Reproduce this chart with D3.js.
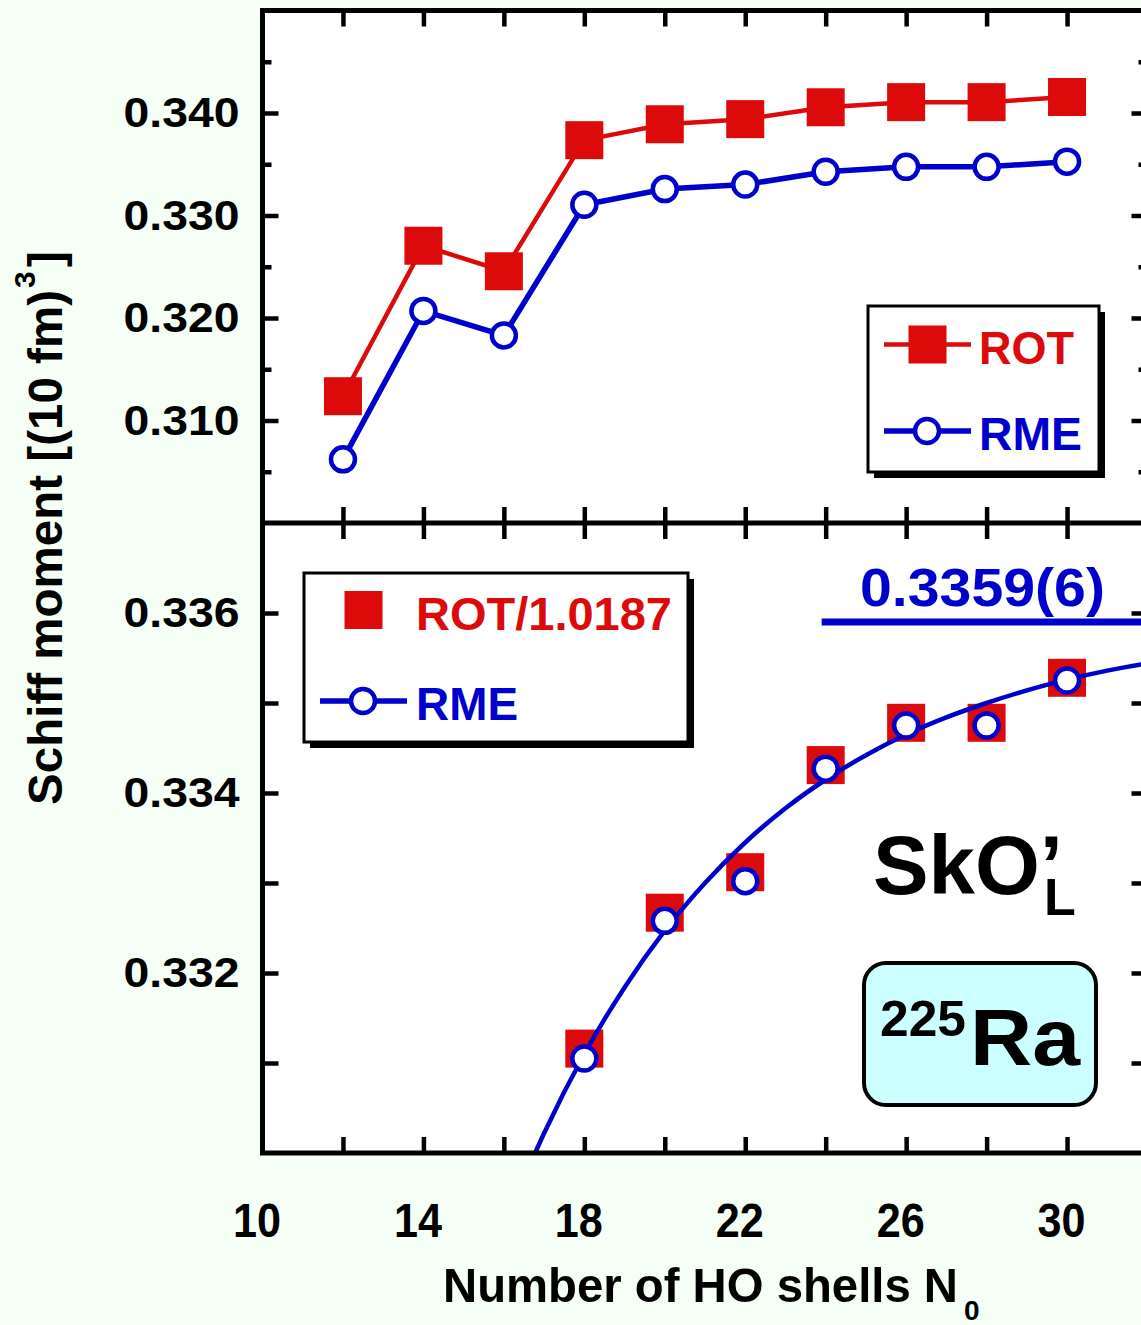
<!DOCTYPE html>
<html>
<head>
<meta charset="utf-8">
<script src="https://cdn.jsdelivr.net/npm/d3@7"></script>
<style>
  body { margin: 0; background: #f5fff5; }
  svg { display: block; }
  text { font-family: "Liberation Sans", Arial, sans-serif; font-weight: bold; }
</style>
</head>
<body>
<svg id="chart" width="1141" height="1325"></svg>
<script>
// ---- data ----
const shells = [12, 14, 16, 18, 20, 22, 24, 26, 28, 30];
const rot = [0.31237, 0.32705, 0.32456, 0.33735, 0.33890, 0.33940, 0.34056, 0.34106, 0.34106, 0.34156];
const rme = [0.30621, 0.32069, 0.31830, 0.33105, 0.33258, 0.33302, 0.33427, 0.33475, 0.33475, 0.33525];

const lowerShells = [18, 20, 22, 24, 26, 28, 30];
const rotScaled = [0.33116, 0.33267, 0.33312, 0.33431, 0.33478, 0.33478, 0.33528];
const rmeLower = [0.33105, 0.33258, 0.33302, 0.33427, 0.33475, 0.33475, 0.33525];

// extrapolation curve through the RME points
const fitShells = [16.5, 17, 18, 19, 20, 21, 22, 23, 24, 25, 26, 27, 28, 29, 30, 31, 32];
const fitValues = [0.32972, 0.33022, 0.33110, 0.33184, 0.33247, 0.33300, 0.33345, 0.33383,
                   0.33415, 0.33442, 0.33465, 0.33484, 0.33500, 0.33514, 0.33526, 0.33536, 0.33544];

const limitValue = 0.3359;
const limitStart = 23.9;
const limitLabel = "0.3359(6)";

const xTickLabels = [10, 14, 18, 22, 26, 30];
const xTickMarks = [12, 14, 16, 18, 20, 22, 24, 26, 28, 30];
const upperTickLabels = [0.310, 0.320, 0.330, 0.340];
const upperMinorTicks = [0.305, 0.315, 0.325, 0.335, 0.345];
const lowerTickLabels = [0.332, 0.334, 0.336];
const lowerTicks = [0.331, 0.332, 0.333, 0.334, 0.335, 0.336];

const RED = "#dc0a0a";
const BLUE = "#0000cc";

// ---- layout ----
const svg = d3.select("#chart");
const L = 262.5, R = 1147.5, T = 10.5, M = 523, B = 1153;

const x = d3.scaleLinear().domain([10, 32]).range([L, R]);
const yTop = d3.scaleLinear().domain([0.300, 0.350]).range([M, T]);
const yBot = d3.scaleLinear().domain([0.330, 0.337]).range([B, M]);

function fit(sel, w) {
  sel.attr("textLength", w).attr("lengthAdjust", "spacingAndGlyphs");
  return sel;
}

// plot background
svg.append("rect").attr("x", L).attr("y", T).attr("width", R - L).attr("height", B - T)
  .attr("fill", "#ffffff");

const defs = svg.append("defs");
defs.append("clipPath").attr("id", "clipTop").append("rect")
  .attr("x", L).attr("y", T).attr("width", R - L).attr("height", M - T);
defs.append("clipPath").attr("id", "clipBot").append("rect")
  .attr("x", L).attr("y", M).attr("width", R - L).attr("height", B - M);

// ---- tick marks ----
function ticks(axis, tx, ty, len, values) {
  const g = svg.append("g").attr("transform", `translate(${tx},${ty})`)
    .call(axis.tickValues(values).tickSizeInner(len).tickSizeOuter(0).tickFormat(""));
  g.select(".domain").remove();
  g.selectAll(".tick line").attr("stroke", "#000").attr("stroke-width", 4.5);
  return g;
}
// x ticks, inward on each horizontal frame line
ticks(d3.axisBottom(x), 0, T, 16, xTickMarks);
ticks(d3.axisTop(x), 0, M, 16, xTickMarks);
ticks(d3.axisBottom(x), 0, M, 16, xTickMarks);
ticks(d3.axisTop(x), 0, B, 16, xTickMarks);
// y ticks, upper panel
ticks(d3.axisRight(yTop), L, 0, 16, upperTickLabels);
ticks(d3.axisRight(yTop), L, 0, 9, upperMinorTicks);
ticks(d3.axisLeft(yTop), R, 0, 16, upperTickLabels);
ticks(d3.axisLeft(yTop), R, 0, 9, upperMinorTicks);
// y ticks, lower panel
ticks(d3.axisRight(yBot), L, 0, 16, lowerTicks);
ticks(d3.axisLeft(yBot), R, 0, 16, lowerTicks);

// ---- tick labels ----
function labels(axis, tx, ty, values, fmt, pad, size, width, dx) {
  const g = svg.append("g").attr("transform", `translate(${tx},${ty})`)
    .call(axis.tickValues(values).tickSize(0).tickPadding(pad).tickFormat(fmt));
  g.select(".domain").remove();
  g.attr("font-family", null).attr("font-size", null);
  g.selectAll(".tick text").attr("fill", "#000").style("font-size", size + "px")
    .attr("dx", dx || 0)
    .each(function () { fit(d3.select(this), width); });
  return g;
}
labels(d3.axisLeft(yTop), L, 0, upperTickLabels, d3.format(".3f"), 23, 43, 116);
labels(d3.axisLeft(yBot), L, 0, lowerTickLabels, d3.format(".3f"), 23, 43, 116);
labels(d3.axisBottom(x), 0, B, xTickLabels, d3.format("d"), 49, 49, 48, -6);

// ---- upper panel: ROT and RME ----
const gTop = svg.append("g").attr("clip-path", "url(#clipTop)");
const upperRot = shells.map((n, i) => ({ n, v: rot[i] }));
const upperRme = shells.map((n, i) => ({ n, v: rme[i] }));
const lineTop = d3.line().x(d => x(d.n)).y(d => yTop(d.v));

gTop.append("path").datum(upperRot).attr("d", lineTop)
  .attr("fill", "none").attr("stroke", RED).attr("stroke-width", 4.5);
gTop.append("path").datum(upperRme).attr("d", lineTop)
  .attr("fill", "none").attr("stroke", BLUE).attr("stroke-width", 5.5);

const SQ = 38;
gTop.selectAll("rect.rot").data(upperRot).join("rect").attr("class", "rot")
  .attr("x", d => x(d.n) - SQ / 2).attr("y", d => yTop(d.v) - SQ / 2)
  .attr("width", SQ).attr("height", SQ).attr("fill", RED);
gTop.selectAll("circle.rme").data(upperRme).join("circle").attr("class", "rme")
  .attr("cx", d => x(d.n)).attr("cy", d => yTop(d.v)).attr("r", 12)
  .attr("fill", "#fff").attr("stroke", BLUE).attr("stroke-width", 4.5);

// ---- lower panel: scaled ROT, RME and the extrapolation ----
const gBot = svg.append("g").attr("clip-path", "url(#clipBot)");
const lowRot = lowerShells.map((n, i) => ({ n, v: rotScaled[i] }));
const lowRme = lowerShells.map((n, i) => ({ n, v: rmeLower[i] }));
const fitPts = fitShells.map((n, i) => ({ n, v: fitValues[i] }));

gBot.selectAll("rect.rot").data(lowRot).join("rect").attr("class", "rot")
  .attr("x", d => x(d.n) - SQ / 2).attr("y", d => yBot(d.v) - SQ / 2)
  .attr("width", SQ).attr("height", SQ).attr("fill", RED);

gBot.append("path").datum(fitPts)
  .attr("d", d3.line().x(d => x(d.n)).y(d => yBot(d.v)).curve(d3.curveMonotoneX))
  .attr("fill", "none").attr("stroke", BLUE).attr("stroke-width", 4.5);

gBot.selectAll("circle.rme").data(lowRme).join("circle").attr("class", "rme")
  .attr("cx", d => x(d.n)).attr("cy", d => yBot(d.v)).attr("r", 12)
  .attr("fill", "#fff").attr("stroke", BLUE).attr("stroke-width", 4.5);

// converged value
gBot.append("line")
  .attr("x1", x(limitStart)).attr("x2", x(32))
  .attr("y1", yBot(limitValue)).attr("y2", yBot(limitValue))
  .attr("stroke", BLUE).attr("stroke-width", 7);
fit(svg.append("text").attr("x", 860).attr("y", 606).attr("fill", BLUE)
  .style("font-size", "54px").text(limitLabel), 245);

// ---- frame ----
const frame = svg.append("g").attr("stroke", "#000").attr("stroke-width", 5).attr("fill", "none");
frame.append("rect").attr("x", L).attr("y", T).attr("width", R - L).attr("height", B - T);
frame.append("line").attr("x1", L).attr("x2", R).attr("y1", M).attr("y2", M);

// ---- legends ----
function legendBox(x0, y0, w, h) {
  svg.append("rect").attr("x", x0 + 6).attr("y", y0 + 6).attr("width", w).attr("height", h).attr("fill", "#000");
  svg.append("rect").attr("x", x0).attr("y", y0).attr("width", w).attr("height", h)
    .attr("fill", "#fff").attr("stroke", "#000").attr("stroke-width", 3);
}
// upper legend
legendBox(868, 306, 231, 166);
svg.append("line").attr("x1", 884).attr("x2", 971).attr("y1", 344.5).attr("y2", 344.5)
  .attr("stroke", RED).attr("stroke-width", 4.5);
svg.append("rect").attr("x", 927.5 - SQ / 2).attr("y", 344.5 - SQ / 2).attr("width", SQ).attr("height", SQ).attr("fill", RED);
fit(svg.append("text").attr("x", 979).attr("y", 364).attr("fill", RED).style("font-size", "47px").text("ROT"), 95);
svg.append("line").attr("x1", 884).attr("x2", 971).attr("y1", 431).attr("y2", 431)
  .attr("stroke", BLUE).attr("stroke-width", 5.5);
svg.append("circle").attr("cx", 927).attr("cy", 431).attr("r", 12)
  .attr("fill", "#fff").attr("stroke", BLUE).attr("stroke-width", 4.5);
fit(svg.append("text").attr("x", 979).attr("y", 450).attr("fill", BLUE).style("font-size", "47px").text("RME"), 103);

// lower legend
legendBox(304, 573, 384, 169);
svg.append("rect").attr("x", 363.5 - SQ / 2).attr("y", 610 - SQ / 2).attr("width", SQ).attr("height", SQ).attr("fill", RED);
fit(svg.append("text").attr("x", 416).attr("y", 630).attr("fill", RED).style("font-size", "47px").text("ROT/1.0187"), 256);
svg.append("line").attr("x1", 320).attr("x2", 407).attr("y1", 701).attr("y2", 701)
  .attr("stroke", BLUE).attr("stroke-width", 5.5);
svg.append("circle").attr("cx", 363).attr("cy", 701).attr("r", 12)
  .attr("fill", "#fff").attr("stroke", BLUE).attr("stroke-width", 4.5);
fit(svg.append("text").attr("x", 416).attr("y", 720).attr("fill", BLUE).style("font-size", "47px").text("RME"), 102);

// ---- annotations ----
fit(svg.append("text").attr("x", 873).attr("y", 894).attr("fill", "#000").style("font-size", "84px").text("SkO\u2019"), 190);
svg.append("text").attr("x", 1044).attr("y", 915).attr("fill", "#000").style("font-size", "52px").text("L");

svg.append("rect").attr("x", 864).attr("y", 963).attr("width", 232).attr("height", 142).attr("rx", 22)
  .attr("fill", "#ccffff").attr("stroke", "#000").attr("stroke-width", 4);
fit(svg.append("text").attr("x", 880).attr("y", 1036).attr("fill", "#000").style("font-size", "50px").text("225"), 86);
fit(svg.append("text").attr("x", 970).attr("y", 1065).attr("fill", "#000").style("font-size", "80px").text("Ra"), 110);

// ---- axis titles ----
fit(svg.append("text").attr("x", 443).attr("y", 1302).attr("fill", "#000").style("font-size", "49px")
  .text("Number of HO shells N"), 515);
svg.append("text").attr("x", 964).attr("y", 1320).attr("fill", "#000").style("font-size", "28px").text("0");

const yt = svg.append("g");
fit(yt.append("text").attr("transform", "translate(62,805) rotate(-90)").attr("fill", "#000")
  .style("font-size", "48px").text("Schiff moment [(10 fm)"), 515);
yt.append("text").attr("transform", "translate(35,288) rotate(-90)").attr("fill", "#000")
  .style("font-size", "30px").text("3");
yt.append("text").attr("transform", "translate(62,267) rotate(-90)").attr("fill", "#000")
  .style("font-size", "48px").text("]");
</script>
</body>
</html>
